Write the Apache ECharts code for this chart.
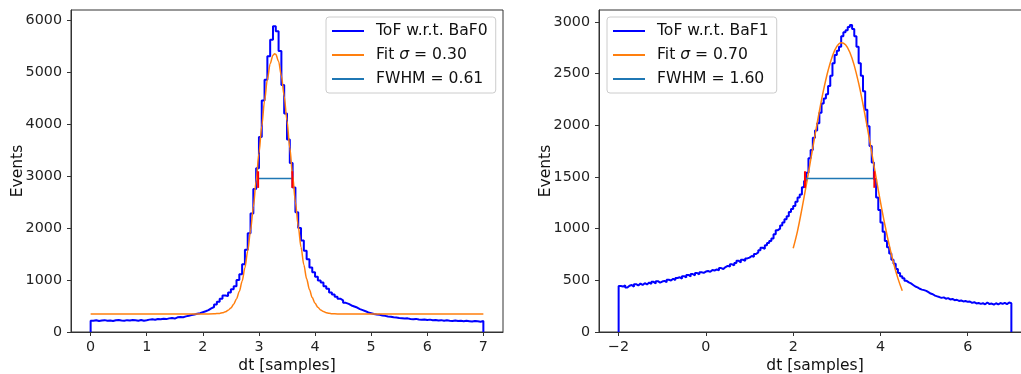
<!DOCTYPE html>
<html><head><meta charset="utf-8">
<script src="https://cdn.jsdelivr.net/npm/echarts@6/dist/echarts.min.js"></script>
<style>html,body{margin:0;padding:0;background:#fff}#c{width:1021px;height:374px}</style>
</head><body><div id="c"></div>
<script>
// ---------- data ----------
const binWidth = 0.05;

const leftStart = 0, leftEnd = 7;
const leftCounts = [
  215,225,210,220,228,218,222,212,225,230,220,215,228,222,232,225,218,230,215,225,
  238,245,235,250,245,255,248,262,270,258,282,290,285,300,312,325,335,350,362,380,
  398,420,455,480,530,580,640,700,690,760,820,880,1000,1110,1300,1580,1900,2280,2750,3150,
  3750,4450,4850,5300,5620,5880,5780,5400,4750,4200,3700,3250,2780,2300,2000,1760,1560,1400,1240,1150,
  1060,990,950,880,830,760,720,680,640,610,560,540,510,490,470,440,420,400,375,360,
  345,335,330,318,310,300,295,282,278,270,265,258,262,250,245,252,240,235,242,230,
  238,225,232,220,228,215,225,218,212,222,210,218,205,215,208,200,212,205,198,210
];
const leftFitX = [0,2.0,2.2,2.3,2.35,2.4,2.45,2.5,2.55,2.6,2.65,2.7,2.75,2.8,2.85,2.9,2.95,3.0,3.05,3.1,3.15,3.2,3.25,3.28,3.3,3.35,3.4,3.45,3.5,3.55,3.6,3.65,3.7,3.75,3.8,3.85,3.9,3.95,4.0,4.05,4.1,4.15,4.2,4.25,4.3,4.4,4.6,7.0];
const leftFitY = [345,345,349,358,369,388,417,463,533,636,780,976,1233,1557,1949,2403,2905,3434,3959,4445,4855,5157,5322,5350,5337,5201,4926,4534,4060,3540,3010,2500,2035,1630,1292,1022,815,661,551,475,425,392,372,360,353,347,345,345];
const leftFwhmX = [2.985, 3.595];
const leftHalf = 2950;
const leftRedY = [2770, 3090];

const rightStart = -2, rightEnd = 7;
const rightCounts = [
  445,440,452,430,448,455,438,462,450,468,455,472,460,478,465,485,470,492,478,488,
  495,482,505,498,515,502,522,530,515,540,528,552,538,560,548,570,558,578,572,585,
  590,582,600,595,605,598,618,610,628,640,632,655,645,668,690,672,700,688,712,720,
  735,728,755,770,790,815,805,840,860,880,905,945,985,1000,1030,1060,1090,1120,1160,1190,
  1220,1260,1300,1330,1400,1460,1540,1680,1760,1880,1950,2020,2120,2210,2260,2300,2380,2480,2600,2680,
  2720,2760,2860,2900,2920,2950,2970,2930,2860,2760,2600,2480,2330,2150,1990,1800,1640,1480,1300,1180,
  1060,970,880,820,760,700,660,610,570,540,520,495,480,470,455,440,432,418,410,405,
  398,385,372,365,352,345,338,330,335,322,328,315,320,308,312,300,305,296,300,292,
  295,282,288,276,280,272,278,268,285,270,275,265,278,268,280,272,282,270,285,278
];
const rightFitX = [2.0,2.1,2.2,2.3,2.4,2.5,2.6,2.7,2.8,2.9,3.0,3.1,3.2,3.3,3.4,3.5,3.6,3.7,3.8,3.9,4.0,4.1,4.2,4.3,4.4,4.5];
const rightFitY = [810,979,1192,1422,1662,1903,2136,2349,2530,2671,2763,2799,2779,2704,2577,2407,2203,1975,1735,1493,1259,1040,842,668,519,400];
const rightFwhmX = [2.27, 3.86];
const rightHalf = 1485;
const rightRedY = [1395, 1555];

const leftXTicks = [0,1,2,3,4,5,6,7];
const leftYTicks = [0,1000,2000,3000,4000,5000,6000];
const rightXTicks = [-2,0,2,4,6];
const rightYTicks = [0,500,1000,1500,2000,2500,3000];

const leftNames = ['ToF w.r.t. BaF0', 'Fit σ = 0.30', 'FWHM = 0.61'];
const rightNames = ['ToF w.r.t. BaF1', 'Fit σ = 0.70', 'FWHM = 1.60'];

// ---------- helpers ----------
function hist(start, end, counts) {
  const pts = [[start, 0]];
  counts.forEach((c, i) => pts.push([+(start + i * binWidth).toFixed(4), c]));
  pts.push([end, counts[counts.length - 1]]);
  pts.push([end, 0]);
  return pts;
}
function zip(xs, ys) { return xs.map((x, i) => [x, ys[i]]); }

const FONT = 'DejaVu Sans';
const fmt = v => (v < 0 ? '\u2212' + Math.abs(v) : String(v));

function xAxisCfg(gi, min, max, ticks) {
  return {
    type: 'value', gridIndex: gi, min: min, max: max,
    axisLine: { show: true, onZero: false, lineStyle: { color: '#333', width: 1 } },
    axisTick: { show: true, length: 4, customValues: ticks, lineStyle: { color: '#333', width: 1 } },
    axisLabel: { customValues: ticks, formatter: fmt, color: '#222', fontSize: 14.3, fontFamily: FONT, margin: 8 },
    splitLine: { show: false },
    name: 'dt [samples]', nameLocation: 'middle', nameGap: 26, nameMoveOverlap: false,
    nameTextStyle: { fontSize: 15.5, fontFamily: FONT, color: '#111' }
  };
}
function yAxisCfg(gi, min, max, ticks) {
  return {
    type: 'value', gridIndex: gi, min: min, max: max,
    axisLine: { show: true, onZero: false, lineStyle: { color: '#333', width: 1 } },
    axisTick: { show: true, length: 4, customValues: ticks, lineStyle: { color: '#333', width: 1 } },
    axisLabel: { customValues: ticks, formatter: fmt, color: '#222', fontSize: 14.3, fontFamily: FONT, margin: 9 },
    splitLine: { show: false },
    name: 'Events', nameLocation: 'middle', nameGap: 45, nameMoveOverlap: false,
    nameTextStyle: { fontSize: 15.5, fontFamily: FONT, color: '#111' }
  };
}
function legendCfg(left, names) {
  return {
    left: left, top: 17, orient: 'vertical', data: names, icon: 'rect',
    itemWidth: 32, itemHeight: 2, itemGap: 8, padding: [6, 8, 6, 6],
    backgroundColor: 'rgba(255,255,255,0.8)', borderColor: '#cccccc', borderWidth: 1, borderRadius: 3,
    selectedMode: false,
    formatter: n => n.replace('σ', '{i|σ}'),
    textStyle: { fontSize: 15.6, fontFamily: FONT, color: '#111', padding: [0, 0, 0, 7],
      rich: { i: { fontStyle: 'italic', fontSize: 15.6, fontFamily: FONT, color: '#111' } } }
  };
}
function lineSeries(name, gi, data, color, width, extra) {
  return Object.assign({
    name: name, type: 'line', xAxisIndex: gi, yAxisIndex: gi, data: data,
    showSymbol: false, symbol: 'none', silent: true, animation: false,
    lineStyle: { color: color, width: width }, itemStyle: { color: color }
  }, extra || {});
}

const series = [
  lineSeries(leftNames[0], 0, hist(leftStart, leftEnd, leftCounts), '#0000ff', 2, { step: 'end' }),
  lineSeries(leftNames[1], 0, zip(leftFitX, leftFitY), '#ff7f0e', 1.5, { smooth: 0.3, smoothMonotone: 'x' }),
  lineSeries(leftNames[2], 0, [[leftFwhmX[0], leftHalf], [leftFwhmX[1], leftHalf]], '#1f77b4', 1.5),
  lineSeries('red-l-a', 0, [[leftFwhmX[0], leftRedY[0]], [leftFwhmX[0], leftRedY[1]]], '#ff0000', 2),
  lineSeries('red-l-b', 0, [[leftFwhmX[1], leftRedY[0]], [leftFwhmX[1], leftRedY[1]]], '#ff0000', 2),

  lineSeries(rightNames[0], 1, hist(rightStart, rightEnd, rightCounts), '#0000ff', 2, { step: 'end' }),
  lineSeries(rightNames[1], 1, zip(rightFitX, rightFitY), '#ff7f0e', 1.5, { smooth: 0.4 }),
  lineSeries(rightNames[2], 1, [[rightFwhmX[0], rightHalf], [rightFwhmX[1], rightHalf]], '#1f77b4', 1.5),
  lineSeries('red-r-a', 1, [[rightFwhmX[0], rightRedY[0]], [rightFwhmX[0], rightRedY[1]]], '#ff0000', 2),
  lineSeries('red-r-b', 1, [[rightFwhmX[1], rightRedY[0]], [rightFwhmX[1], rightRedY[1]]], '#ff0000', 2)
];

const chart = echarts.init(document.getElementById('c'), null, { renderer: 'canvas' });
chart.setOption({
  animation: false,
  backgroundColor: '#ffffff',
  grid: [
    { left: 71, top: 10, width: 432, height: 322, containLabel: false, outerBoundsMode: 'none',
      show: true, borderColor: '#333', borderWidth: 1, backgroundColor: 'transparent' },
    { left: 599, top: 10, width: 432, height: 322, containLabel: false, outerBoundsMode: 'none',
      show: true, borderColor: '#333', borderWidth: 1, backgroundColor: 'transparent' }
  ],
  xAxis: [ xAxisCfg(0, -0.35, 7.35, leftXTicks), xAxisCfg(1, -2.45, 7.45, rightXTicks) ],
  yAxis: [ yAxisCfg(0, 0, 6190, leftYTicks), yAxisCfg(1, 0, 3115, rightYTicks) ],
  legend: [ legendCfg(326, leftNames), legendCfg(607, rightNames) ],
  series: series
});
</script>
</body></html>
